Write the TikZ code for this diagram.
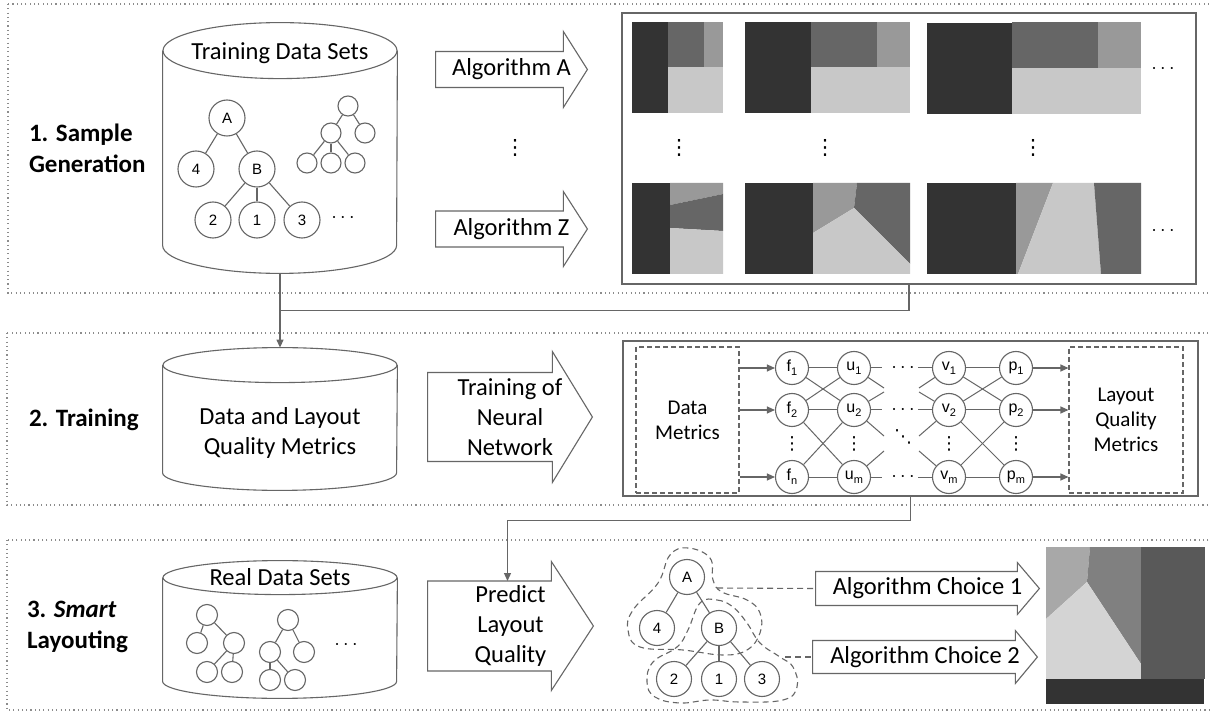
\documentclass[tikz,border=0pt]{standalone}
\usepackage{fontspec}
\setmainfont{Carlito}
\newfontfamily\arialf{Liberation Sans}
\newfontfamily\symf{DejaVu Sans}
\usetikzlibrary{calc,arrows.meta}

\definecolor{tmdark}{HTML}{333333}
\definecolor{tmmid}{HTML}{666666}
\definecolor{tmgray}{HTML}{999999}
\definecolor{tmlight}{HTML}{C8C8C8}
\definecolor{lineg}{HTML}{666666}
\definecolor{dotg}{HTML}{8C8C8C}

\tikzset{
  sectbox/.style={draw=dotg, line width=0.55pt, dash pattern=on 0.55pt off 1.6pt},
  boxframe/.style={draw=lineg, line width=0.8pt, inner sep=0},
  outl/.style={draw=lineg, line width=0.55pt},
  dbase/.style={inner sep=0, minimum width=117pt},
  bigtxt/.style={font=\fontsize{12.25pt}{15pt}\selectfont, align=center},
  arrowbox/.style={bigtxt, inner sep=0},
  sectlabel/.style={font=\fontsize{12.5pt}{15.5pt}\selectfont\bfseries, align=left, anchor=west},
  treenode/.style={circle, draw=lineg, line width=0.55pt, inner sep=0, minimum size=18pt, font=\arialf\fontsize{7.5pt}{9pt}\selectfont},
  smallnode/.style={circle, draw=lineg, line width=0.55pt, inner sep=0, minimum size=10pt},
  treeline/.style={lineg, line width=0.55pt},
  nnnode/.style={circle, draw=lineg, line width=0.55pt, inner sep=0, minimum size=16.5pt, font=\arialf\fontsize{8pt}{9pt}\selectfont},
  nnline/.style={lineg, line width=0.5pt},
  dashbox/.style={draw=lineg, line width=0.55pt, dash pattern=on 2.5pt off 1.5pt, inner sep=0, font=\fontsize{10.5pt}{12.5pt}\selectfont, align=center},
  blob/.style={draw=lineg, line width=0.55pt, dash pattern=on 3pt off 2pt},
  conn/.style={lineg, line width=0.6pt, -{Triangle[length=4pt,width=3.5pt]}},
  dotsv/.style={inner sep=0, font=\symf\fontsize{10.5pt}{12pt}\selectfont},
  dotsh/.style={inner sep=0, font=\fontsize{10pt}{12pt}\selectfont}
}

% small low index in the network nodes
\newcommand{\nsub}[1]{\raisebox{-0.45ex}{\fontsize{5.5pt}{6pt}\selectfont #1}}
% outline of a fat arrow round a node: node, half shaft, head length (px)
\newcommand{\fatarrow}[3]{%
  \draw[outl] ($(#1.west)+(0,-#2)$) -- ($(#1.east)+(-#3,-#2)$) -- ($(#1.north east)+(-#3,0)$)
    -- (#1.east) -- ($(#1.south east)+(-#3,0)$) -- ($(#1.east)+(-#3,#2)$) -- ($(#1.west)+(0,#2)$) -- cycle;}
% data base cylinder round a node: node, end radius (px)
\newcommand{\dbcyl}[2]{%
  \draw[outl] ($(#1.north west)+(0,#2)$) -- ($(#1.south west)+(0,-#2)$)
    arc[start angle=180, end angle=360, x radius=58.5pt, y radius=#2*0.5pt]
    -- ($(#1.north east)+(0,#2)$);
  \draw[outl] ($(#1.north)+(0,#2)$) ellipse[x radius=58.5pt, y radius=#2*0.5pt];}

\begin{document}
\begin{tikzpicture}[x=0.5pt, y=-0.5pt]
  \useasboundingbox (0,0) rectangle (1211,711);
  \fill[white] (0,0) rectangle (1211,711);

  % sections
  \draw[sectbox] (8,4) rectangle (1216,293);
  \draw[sectbox] (7,333) rectangle (1216,505);
  \draw[sectbox] (7,540) rectangle (1216,710);
  \node[sectlabel] (lab1) at (22,148.5) {1. Sample\\Generation};
  \node[sectlabel] (lab2) at (22,420) {2. Training};
  \node[sectlabel] (lab3) at (20,627) {3. \textit{Smart}\\Layouting};

  % 1. sample generation
  \node[dbase, minimum height=125pt] (cyl1) at (280,148) {};
  \dbcyl{cyl1}{28}
  \node[bigtxt] (tds) at (280,53) {Training Data Sets};
  \node[treenode] (tA) at (227,118) {A};
  \node[treenode] (t4) at (196,169) {4};
  \node[treenode] (tB) at (257,169) {B};
  \node[treenode] (t2) at (213,220) {2};
  \node[treenode] (t1) at (257,220) {1};
  \node[treenode] (t3) at (302,220) {3};
  \foreach \p/\c in {tA/t4, tA/tB, tB/t2, tB/t1, tB/t3}
    \draw[treeline] (\p) -- (\c);
  \node[smallnode] (s1) at (348,106) {};
  \node[smallnode] (s2) at (331,133) {};
  \node[smallnode] (s3) at (365,133) {};
  \node[smallnode] (s4) at (307,163) {};
  \node[smallnode] (s5) at (331,163) {};
  \node[smallnode] (s6) at (355,163) {};
  \foreach \p/\c in {s1/s2, s1/s3, s2/s4, s2/s5, s2/s6}
    \draw[treeline] (\p) -- (\c);
  \node[dotsh] (tmore) at (343,218) {$\cdots$};

  \node[arrowbox, minimum width=75.5pt, minimum height=37.5pt] (algA) at (511.5,69.5) {Algorithm A};
  \fatarrow{algA}{18}{24}
  \node[dotsv] (algdots) at (515,148) {⋮};
  \node[arrowbox, minimum width=75.5pt, minimum height=37pt] (algZ) at (511.5,229) {Algorithm Z};
  \fatarrow{algZ}{18}{24}

  \node[boxframe, minimum width=287pt, minimum height=135.5pt] (tmframe) at (909,148.5) {};
  % treemaps, first row
  \fill[tmdark] (632,22) rectangle (668,113);
  \fill[tmmid] (668,22) rectangle (704,67);
  \fill[tmgray] (704,22) rectangle (723,67);
  \fill[tmlight] (668,67) rectangle (723,113);
  \fill[tmdark] (745,22) rectangle (811,113);
  \fill[tmmid] (811,22) rectangle (877,67);
  \fill[tmgray] (877,22) rectangle (910,67);
  \fill[tmlight] (811,67) rectangle (910,113);
  \fill[tmdark] (927,23) rectangle (1012,114);
  \fill[tmmid] (1012,22) rectangle (1098,68);
  \fill[tmgray] (1098,22) rectangle (1141,68);
  \fill[tmlight] (1012,68) rectangle (1141,114);
  % treemaps, last row
  \fill[tmdark] (632,183) rectangle (670,274);
  \fill[tmgray] (670,183) -- (723,183) -- (723,194) -- (670,205) -- cycle;
  \fill[tmmid] (670,205) -- (723,194) -- (723,231) -- (670,228) -- cycle;
  \fill[tmlight] (670,228) -- (723,231) -- (723,274) -- (670,274) -- cycle;
  \fill[tmdark] (745,183) rectangle (813,274);
  \fill[tmgray] (813,183) -- (857,183) -- (854,208) -- (813,233) -- cycle;
  \fill[tmmid] (857,183) -- (910,183) -- (910,264) -- (854,208) -- cycle;
  \fill[tmlight] (813,233) -- (854,208) -- (910,264) -- (910,274) -- (813,274) -- cycle;
  \fill[tmdark] (927,183) rectangle (1016,274);
  \fill[tmgray] (1016,183) -- (1053,183) -- (1018,274) -- (1016,274) -- cycle;
  \fill[tmlight] (1053,183) -- (1094,183) -- (1101,274) -- (1018,274) -- cycle;
  \fill[tmmid] (1094,183) -- (1141,183) -- (1141,274) -- (1101,274) -- cycle;
  \foreach \x in {679,825,1033}
    \node[dotsv] at (\x,148) {⋮};
  \node[dotsh] (tmmoreA) at (1163,69) {$\cdots$};
  \node[dotsh] (tmmoreZ) at (1163,231) {$\cdots$};

  % 2. training
  \node[dbase, minimum height=71pt] (cyl2) at (280,419) {};
  \dbcyl{cyl2}{17.5}
  \node[bigtxt] (dlq) at (280,433) {Data and Layout\\Quality Metrics};
  \draw[conn] (cyl1.south) -- (cyl2.north);
  \draw[outl] (tmframe.south) |- ($(cyl1.south)!0.5!(cyl2.north)$);

  \node[arrowbox, minimum width=82pt, minimum height=65pt] (train) at (510,417) {Training of\\Neural\\Network};
  \fatarrow{train}{44.5}{40}

  \node[boxframe, minimum width=287.5pt, minimum height=77.5pt] (nnframe) at (910.5,418.5) {};
  \node[dashbox, minimum width=51.5pt, minimum height=73pt] (dmet) at (687.5,420) {Data\\Metrics};
  \node[dashbox, minimum width=57pt, minimum height=73pt] (lqm) at (1126,420) {Layout\\Quality\\Metrics};
  \foreach \l/\x in {f/792, u/854, v/949, p/1016} {
    \node[nnnode] (\l1) at (\x,368) {\l\nsub{1}};
    \node[nnnode] (\l2) at (\x,410) {\l\nsub{2}};
    \node[dotsv, font=\symf\fontsize{9pt}{10pt}\selectfont] at (\x,444) {⋮};
  }
  \node[nnnode] (fn) at (792,477) {f\nsub{n}};
  \node[nnnode] (um) at (854,477) {u\nsub{m}};
  \node[nnnode] (vm) at (949,477) {v\nsub{m}};
  \node[nnnode] (pm) at (1016,477) {p\nsub{m}};
  \foreach \y in {368,410,477}
    \node[dotsh] at (903,\y) {$\cdots$};
  \node[dotsv, font=\symf\fontsize{9pt}{10pt}\selectfont] (nndiag) at (903,437) {⋱};
  \foreach \a/\b in {f1/u1, f2/u2, fn/um, f1/u2, f2/u1, f2/um, fn/u2,
                     v1/p1, v2/p2, vm/pm, v1/p2, v2/p1, v2/pm, vm/p2}
    \draw[nnline] (\a) -- (\b);
  \foreach \n/\dx/\dy in {u1/28/0, u2/28/0, um/28/0, u1/30/20, u2/30/-18, u2/30/26, um/30/-26,
                          v1/-31/0, v2/-31/0, vm/-31/0, v1/-30/20, v2/-30/-18, v2/-30/26, vm/-30/-26}
    \draw[nnline] (\n) -- ++(\dx,\dy);
  \foreach \n in {f1,f2,fn}
    \draw[conn] (dmet.east |- \n) -- (\n);
  \foreach \n in {p1,p2,pm}
    \draw[conn] (\n) -- (lqm.west |- \n);

  % 3. smart layouting
  \node[dbase, minimum height=68.5pt] (cyl3) at (280,629.5) {};
  \dbcyl{cyl3}{17}
  \node[bigtxt] (rds) at (280,577) {Real Data Sets};
  \node[smallnode, minimum size=10.5pt] (x1) at (207,615) {};
  \node[smallnode, minimum size=10.5pt] (x2) at (197,643) {};
  \node[smallnode, minimum size=10.5pt] (x3) at (234,643) {};
  \node[smallnode, minimum size=10.5pt] (x4) at (207,672) {};
  \node[smallnode, minimum size=10.5pt] (x5) at (232,672) {};
  \node[smallnode, minimum size=10.5pt] (y1) at (288,620) {};
  \node[smallnode, minimum size=10.5pt] (y2) at (270,652) {};
  \node[smallnode, minimum size=10.5pt] (y3) at (304,652) {};
  \node[smallnode, minimum size=10.5pt] (y4) at (270,680) {};
  \node[smallnode, minimum size=10.5pt] (y5) at (295,680) {};
  \foreach \p/\c in {x1/x2, x1/x3, x3/x4, x3/x5, y1/y2, y1/y3, y2/y4, y2/y5}
    \draw[treeline] (\p) -- (\c);
  \node[dotsh] (rmore) at (346,645) {$\cdots$};

  \node[arrowbox, minimum width=82.5pt, minimum height=64pt] (predict) at (510.5,626) {Predict\\Layout\\Quality};
  \fatarrow{predict}{45}{42}
  \draw[conn] (nnframe.south) -- ++(0,24) -| ($(predict.center)+(-3,-45)$);

  \node[treenode, minimum size=17.5pt] (cA) at (687,577) {A};
  \node[treenode, minimum size=17.5pt] (c4) at (657,628) {4};
  \node[treenode, minimum size=17.5pt] (cB) at (719,628) {B};
  \node[treenode, minimum size=17.5pt] (c2) at (674,679) {2};
  \node[treenode, minimum size=17.5pt] (c1) at (719,679) {1};
  \node[treenode, minimum size=17.5pt] (c3) at (762,679) {3};
  \foreach \p/\c in {cA/c4, cA/cB, cB/c2, cB/c1, cB/c3}
    \draw[treeline] (\p) -- (\c);
  \draw[blob] plot[smooth cycle, tension=0.7] coordinates {(688,548) (710,558) (713,580) (722,592)
    (747,600) (760,613) (760,633) (747,650) (723,655) (683,650) (640,647) (628,630) (633,610)
    (658,583) (670,555)};
  \draw[blob] plot[smooth cycle, tension=0.7] coordinates {(700,603) (717,600) (733,607) (747,623)
    (760,643) (780,657) (793,667) (797,687) (783,700) (740,702) (710,700) (680,703) (655,697)
    (647,682) (653,662) (677,647) (688,630)};
  \coordinate (blobA) at (717,588);
  \coordinate (blobB) at (785,657);

  \node[arrowbox, minimum width=111.5pt, minimum height=25.5pt] (choiceA) at (927.5,588.5) {Algorithm Choice 1};
  \fatarrow{choiceA}{17}{22}
  \node[arrowbox, minimum width=112pt, minimum height=26pt] (choiceB) at (925,657) {Algorithm Choice 2};
  \fatarrow{choiceB}{16.5}{22}
  \draw[blob] (blobA) -- (choiceA.west);
  \draw[blob] (blobB) -- (choiceB.west);

  % chosen treemap
  \fill[black!34] (1046,547) -- (1090,547) -- (1087,582) -- (1046,619) -- cycle;
  \fill[black!50] (1090,547) -- (1141,547) -- (1141,664) -- (1087,582) -- cycle;
  \fill[black!17] (1046,619) -- (1087,582) -- (1141,664) -- (1141,679) -- (1046,679) -- cycle;
  \fill[black!65] (1141,547) rectangle (1205,679);
  \fill[tmdark] (1046,679) rectangle (1204,704);
\end{tikzpicture}
\end{document}
